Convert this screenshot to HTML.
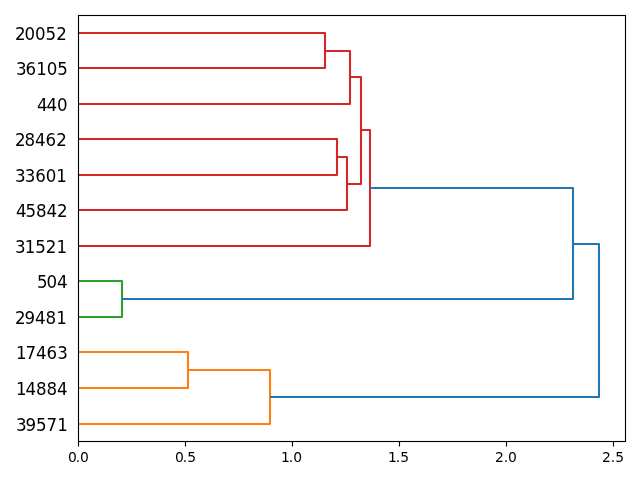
<!DOCTYPE html>
<html lang="en">
<head>
<meta charset="utf-8">
<title>Dendrogram</title>
<style>
html,body{margin:0;padding:0;background:#fff;}
body{width:640px;height:480px;overflow:hidden;}
svg{display:block;}
text{font-family:"DejaVu Sans","Liberation Sans",sans-serif;fill:#000;}
.yl text{font-size:16.667px;}
.xl text{font-size:13.889px;}
</style>
</head>
<body>
<svg width="640" height="480" viewBox="0 0 640 480">
<rect x="0" y="0" width="640" height="480" fill="#ffffff"/>
<g fill="none" stroke-width="2.0833" stroke-linejoin="round" stroke-linecap="butt">
<path d="M78 388 L188 388 L188 352 L78 352" stroke="#ff7f0e"/>
<path d="M78 424 L270 424 L270 370 L188 370" stroke="#ff7f0e"/>
<path d="M78 317 L122 317 L122 281 L78 281" stroke="#2ca02c"/>
<path d="M78 175 L337 175 L337 139 L78 139" stroke="#d62728"/>
<path d="M78 210 L347 210 L347 157 L337 157" stroke="#d62728"/>
<path d="M78 68 L325 68 L325 33 L78 33" stroke="#d62728"/>
<path d="M78 104 L350 104 L350 51 L325 51" stroke="#d62728"/>
<path d="M347 184 L361 184 L361 77 L350 77" stroke="#d62728"/>
<path d="M78 246 L370 246 L370 130 L361 130" stroke="#d62728"/>
<path d="M122 299 L573 299 L573 188 L370 188" stroke="#1f77b4"/>
<path d="M270 397 L599 397 L599 244 L573 244" stroke="#1f77b4"/>
</g>
<path d="M78.5 441.5V446.45M185.5 441.5V446.45M292.5 441.5V446.45M399.5 441.5V446.45M506.5 441.5V446.45M613.5 441.5V446.45" fill="none" stroke="#000" stroke-width="1.1111"/>
<rect x="78.5" y="15.5" width="547" height="426" fill="none" stroke="#000" stroke-width="1.1111"/>
<g class="yl">
<text transform="translate(0,39.875) scale(1,1.055)" x="15 24.625 35.125 45.625 56.25" y="0">20052</text>
<text transform="translate(0,74.75) scale(1,1.055)" x="16 25.625 36.375 46.75 57.25" y="0">36105</text>
<text transform="translate(0,111.125) scale(1,1.055)" x="37.125 46.625 57" y="0">440</text>
<text transform="translate(0,145.875) scale(1,1.055)" x="15 24.625 35.125 45.625 56.25" y="0">28462</text>
<text transform="translate(0,181.875) scale(1,1.055)" x="15 24.875 35.25 45.75 56.25" y="0">33601</text>
<text transform="translate(0,216.875) scale(1,1.055)" x="16 25.5 36 46.5 57" y="0">45842</text>
<text transform="translate(0,252.875) scale(1,1.055)" x="15 24.875 35.25 45.875 56.625" y="0">31521</text>
<text transform="translate(0,287.875) scale(1,1.055)" x="37 46.5 57" y="0">504</text>
<text transform="translate(0,323.875) scale(1,1.055)" x="15 24.5 35.125 45.625 56.375" y="0">29481</text>
<text transform="translate(0,358.875) scale(1,1.055)" x="16 25.625 36.125 46.625 57.375" y="0">17463</text>
<text transform="translate(0,394.875) scale(1,1.055)" x="16 25.625 36.125 46.625 57.125" y="0">14884</text>
<text transform="translate(0,430.75) scale(1,1.055)" x="16 25.5 36.125 46.625 57.375" y="0">39571</text>
</g>
<g class="xl">
<text x="67.875 75.75 80" y="462">0.0</text>
<text x="174.875 182.75 187.125" y="461.875">0.5</text>
<text x="281 288.625 293.125" y="462">1.0</text>
<text x="388 395.625 400.25" y="461.875">1.5</text>
<text x="495 503.75 508" y="462.125">2.0</text>
<text x="602 610.75 615.125" y="462">2.5</text>
</g>
</svg>
</body>
</html>
